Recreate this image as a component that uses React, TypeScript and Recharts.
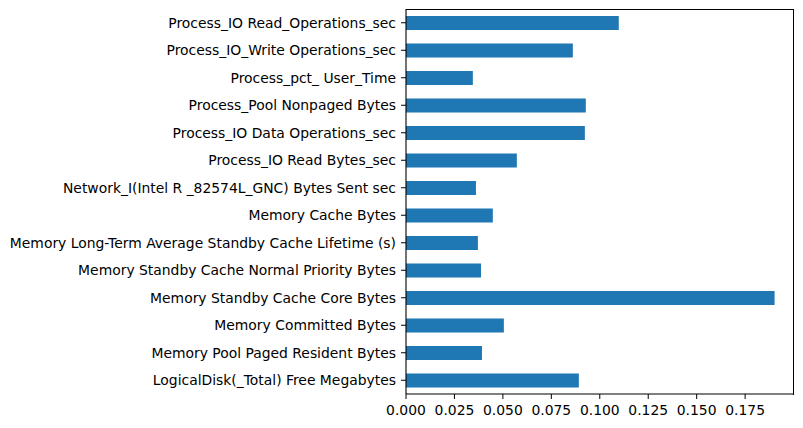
import React from 'react'
import { BarChart, Bar, XAxis, YAxis } from 'recharts'

// feature names, top to bottom as drawn
const features = [
  'Process_IO Read_Operations_sec',
  'Process_IO_Write Operations_sec',
  'Process_pct_ User_Time',
  'Process_Pool Nonpaged Bytes',
  'Process_IO Data Operations_sec',
  'Process_IO Read Bytes_sec',
  'Network_I(Intel R _82574L_GNC) Bytes Sent sec',
  'Memory Cache Bytes',
  'Memory Long-Term Average Standby Cache Lifetime (s)',
  'Memory Standby Cache Normal Priority Bytes',
  'Memory Standby Cache Core Bytes',
  'Memory Committed Bytes',
  'Memory Pool Paged Resident Bytes',
  'LogicalDisk(_Total) Free Megabytes',
]

const importances = [
  0.1098, 0.0861, 0.0345, 0.0928, 0.0923, 0.0572, 0.0361,
  0.0448, 0.0371, 0.0387, 0.1902, 0.0505, 0.0392, 0.0892,
]

const xTicks = [0, 0.025, 0.05, 0.075, 0.1, 0.125, 0.15, 0.175]

const data = features.map((name, i) => ({ name, value: importances[i] }))

const xMax = Math.max(...importances) * 1.05
const font = { fontFamily: 'DejaVu Sans', fontSize: 13.9, fill: '#000' }

export default function App() {
  return (
    <div style={{ position: 'absolute', left: 0, top: 0, background: '#fff' }}>
      <BarChart
        width={803}
        height={428}
        data={data}
        layout="vertical"
        margin={{ top: 9, right: 10, bottom: 0, left: 0 }}
        barCategoryGap="25%"
      >
        <XAxis
          type="number"
          dataKey="value"
          domain={[0, xMax]}
          allowDataOverflow
          ticks={xTicks}
          tickFormatter={(v: number) => v.toFixed(3)}
          interval={0}
          height={34}
          tickSize={5}
          tickMargin={6}
          tick={font}
          axisLine={{ stroke: '#000', strokeWidth: 1.1 }}
          tickLine={{ stroke: '#000' }}
        />
        <YAxis
          type="category"
          dataKey="name"
          width={406}
          interval={0}
          tickSize={5}
          tickMargin={5}
          tick={font}
          axisLine={{ stroke: '#000', strokeWidth: 1.1 }}
          tickLine={{ stroke: '#000' }}
        />
        <Bar dataKey="value" fill="#1f77b4" isAnimationActive={false} />
      </BarChart>
      {/* top and right spines */}
      <div
        style={{
          position: 'absolute',
          left: 406,
          top: 8.5,
          width: 387.5,
          height: 386,
          boxSizing: 'border-box',
          borderTop: '1px solid #000',
          borderRight: '1px solid #000',
          pointerEvents: 'none',
        }}
      />
    </div>
  )
}
